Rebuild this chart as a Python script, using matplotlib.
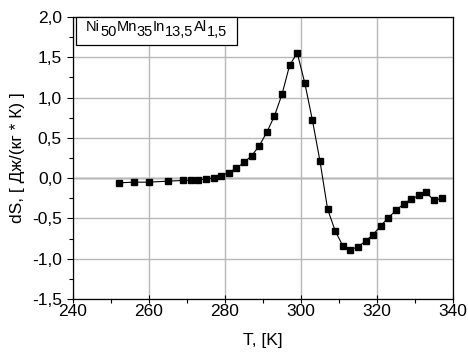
import matplotlib
matplotlib.use("Agg")
import matplotlib.pyplot as plt
from matplotlib.ticker import MultipleLocator, FuncFormatter
from matplotlib.patches import Rectangle

plt.rcParams['font.family'] = ['Liberation Sans', 'DejaVu Sans']
plt.rcParams['axes.unicode_minus'] = False

T = [252, 256, 260, 265, 269, 271, 273, 275, 277, 279, 281, 283, 285, 287, 289,
     291, 293, 295, 297, 299, 301, 303, 305, 307, 309, 311, 313, 315, 317, 319,
     321, 323, 325, 327, 329, 331, 333, 335, 337]
dS = [-0.058, -0.05, -0.05, -0.037, -0.029, -0.025, -0.021, -0.012, 0.004, 0.028,
      0.07, 0.124, 0.195, 0.277, 0.40, 0.57, 0.77, 1.04, 1.40, 1.556, 1.18, 0.72,
      0.21, -0.385, -0.655, -0.84, -0.886, -0.853, -0.78, -0.70, -0.59, -0.49,
      -0.40, -0.32, -0.26, -0.215, -0.178, -0.277, -0.252]

legend_pieces = ['Ni', '50', 'Mn', '35', 'In', '13,5', 'Al', '1,5']
legend_is_sub = [False, True, False, True, False, True, False, True]
xlabel = 'T, [K]'
ylabel = 'dS, [ Дж/(кг * К) ]'

W, H = 468, 354
fig = plt.figure(figsize=(W / 100, H / 100), dpi=100)
ax = fig.add_axes([73 / W, 55 / H, 380 / W, 282 / H])

ax.set_xlim(240, 340)
ax.set_ylim(-1.5, 2.0)
ax.xaxis.set_major_locator(MultipleLocator(20))
ax.xaxis.set_minor_locator(MultipleLocator(10))
ax.yaxis.set_major_locator(MultipleLocator(0.5))
ax.yaxis.set_minor_locator(MultipleLocator(0.25))
ax.yaxis.set_major_formatter(FuncFormatter(lambda v, p: f'{v:.1f}'.replace('.', ',')))

ax.grid(True, which='major', color='#b8b8b8', linewidth=1.0, zorder=0)
ax.axhline(0, color='black', linewidth=0.9, zorder=1)

ax.plot(T, dS, color='black', linewidth=0.8, marker='s', markersize=5,
        markerfacecolor='black', markeredgecolor='black', zorder=3)

ax.tick_params(axis='x', which='major', direction='inout', length=6, width=0.8,
               labelsize=12.5, pad=0.5)
ax.tick_params(axis='y', which='major', direction='out', length=4.5, width=0.8,
               labelsize=12.5, pad=3.5)
ax.tick_params(which='minor', direction='out', length=3, width=0.8)
for s in ax.spines.values():
    s.set_linewidth(0.9)

ax.set_xlabel(xlabel, fontsize=12.5, labelpad=10)
ax.set_ylabel(ylabel, fontsize=12.5, labelpad=5)

# legend-like box with formula
box = Rectangle((76 / W, (H - 45) / H), 161 / W, 28 / H, transform=fig.transFigure,
                facecolor='white', edgecolor='black', linewidth=0.9, zorder=5)
fig.patches.append(box)
renderer = fig.canvas.get_renderer()
x_px = 86.0
base_px = H - 31.0
for s, sub in zip(legend_pieces, legend_is_sub):
    y_px = base_px - 4.5 if sub else base_px
    t = fig.text(x_px / W, y_px / H, s, fontsize=10.5, va='baseline', ha='left', zorder=6)
    x_px += t.get_window_extent(renderer).width

fig.savefig('out.png', dpi=100)
